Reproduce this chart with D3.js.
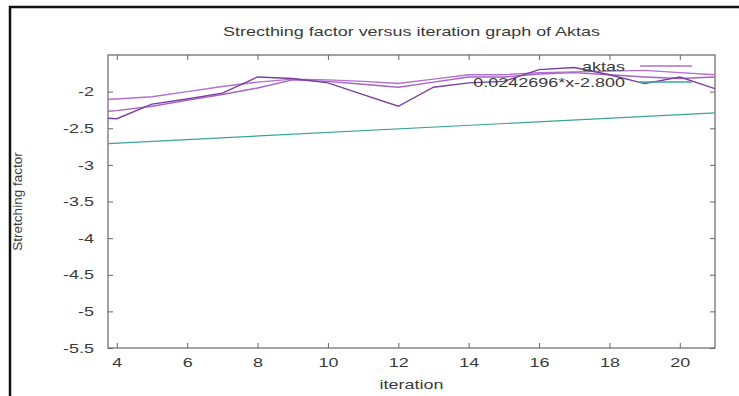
<!DOCTYPE html>
<html lang="en">
<head>
<meta charset="UTF-8">
<title>Strecthing factor versus iteration graph of Aktas</title>
<script src="https://cdn.jsdelivr.net/npm/d3@7"></script>
<style>
    body{margin:0;background:#fff;}
    .chart text{font-family:"Liberation Sans",Arial,sans-serif;fill:#3a3a3a;}
    .tick line{stroke:#666;}
    .axis path{display:none;}
</style>
</head>
<body>
<svg class="chart"></svg>
<script>
let iterations=[3,4,5,6,7,8,9,10,11,12,13,14,15,16,17,18,19,20,21];
let runA=[-2.34,-2.37,-2.17,-2.10,-2.02,-1.80,-1.82,-1.88,-2.04,-2.20,-1.94,-1.88,-1.86,-1.70,-1.67,-1.77,-1.89,-1.80,-1.96];
let runB=[-2.12,-2.10,-2.07,-2.00,-1.93,-1.87,-1.83,-1.84,-1.86,-1.89,-1.83,-1.77,-1.77,-1.74,-1.73,-1.72,-1.71,-1.74,-1.77];
let runC=[-2.29,-2.26,-2.20,-2.12,-2.04,-1.95,-1.84,-1.86,-1.90,-1.94,-1.87,-1.80,-1.80,-1.76,-1.74,-1.77,-1.80,-1.82,-1.80];
let fitSlope=0.0242696, fitIntercept=-2.800;
let xTicks=[4,6,8,10,12,14,16,18,20];
let yTicks=[-5.5,-5,-4.5,-4,-3.5,-3,-2.5,-2];

let W=739,H=396;
let margin={top:55,right:24,bottom:48,left:108};
let width=W-margin.left-margin.right,height=H-margin.top-margin.bottom;
let k=1.38;

let svg=d3.select('.chart').attr('width',W).attr('height',H);

svg.append('path')
    .attr('d','M10,396V7H739')
    .attr('fill','none').attr('stroke','#111').attr('stroke-width',2.5);

let x=d3.scaleLinear().domain([3.75,21]).range([0,width]);
let y=d3.scaleLinear().domain([-5.5,-1.5]).range([height,0]);

let chart=svg.append('g')
    .attr('transform','translate('+margin.left+','+margin.top+')');

svg.append('defs').append('clipPath').attr('id','plot')
    .append('rect').attr('width',width).attr('height',height);

function stretch(sel,f){
    sel.each(function(){
        let w=this.getComputedTextLength();
        d3.select(this).attr('textLength',w*f).attr('lengthAdjust','spacingAndGlyphs');
    });
}

chart.append('g').attr('class','axis')
    .attr('transform','translate(0,'+height+')')
    .call(d3.axisBottom(x).tickValues(xTicks).tickSizeInner(-5).tickSizeOuter(0).tickPadding(10))
    .selectAll('text').attr('font-size',13).call(stretch,k);
chart.append('g').attr('class','axis')
    .call(d3.axisTop(x).tickValues(xTicks).tickSizeInner(-5).tickSizeOuter(0).tickFormat(''));
chart.append('g').attr('class','axis')
    .call(d3.axisLeft(y).tickValues(yTicks).tickSizeInner(-5).tickSizeOuter(0).tickPadding(14).tickFormat(d=>String(d)))
    .selectAll('text').attr('font-size',13).call(stretch,k);
chart.append('g').attr('class','axis')
    .attr('transform','translate('+width+',0)')
    .call(d3.axisRight(y).tickValues(yTicks).tickSizeInner(-5).tickSizeOuter(0).tickFormat(''));

chart.append('rect')
    .attr('width',width).attr('height',height)
    .attr('fill','none').attr('stroke','#666').attr('stroke-width',1.2);

let line=d3.line().x((d,i)=>x(iterations[i])).y(d=>y(d));
let plot=chart.append('g').attr('clip-path','url(#plot)');

let runs=[{v:runB,c:'#b26fd0'},{v:runC,c:'#a862c8'},{v:runA,c:'#7b3e9c'}];
plot.selectAll('.run').data(runs).enter()
    .append('path')
    .attr('d',d=>line(d.v))
    .attr('fill','none').attr('stroke',d=>d.c).attr('stroke-width',1.4);

let fitX=x.domain();
plot.append('line')
    .attr('x1',x(fitX[0])).attr('y1',y(fitSlope*fitX[0]+fitIntercept))
    .attr('x2',x(fitX[1])).attr('y2',y(fitSlope*fitX[1]+fitIntercept))
    .attr('stroke','#3aa39a').attr('stroke-width',1.2);

let key=[{t:'aktas',c:'#a874c4'},{t:'0.0242696*x-2.800',c:'#3aa39a'}];
let keyG=chart.selectAll('.key').data(key).enter().append('g')
    .attr('transform',(d,i)=>'translate(0,'+(11+i*16)+')');
keyG.append('text')
    .attr('x',517).attr('dy','0.35em').attr('text-anchor','end').attr('font-size',13)
    .text(d=>d.t).call(stretch,k);
keyG.append('line')
    .attr('x1',532).attr('x2',584)
    .attr('stroke',d=>d.c).attr('stroke-width',1.4);

svg.append('text')
    .attr('x',margin.left+width/2).attr('y',36).attr('text-anchor','middle').attr('font-size',13)
    .text('Strecthing factor versus iteration graph of Aktas').call(stretch,k);
svg.append('text')
    .attr('x',margin.left+width/2).attr('y',389).attr('text-anchor','middle').attr('font-size',13)
    .text('iteration').call(stretch,k);
svg.append('text')
    .attr('transform','translate(22,'+(margin.top+height/2)+') rotate(-90)')
    .attr('text-anchor','middle').attr('font-size',13.5)
    .text('Stretching factor');
</script>
</body>
</html>
